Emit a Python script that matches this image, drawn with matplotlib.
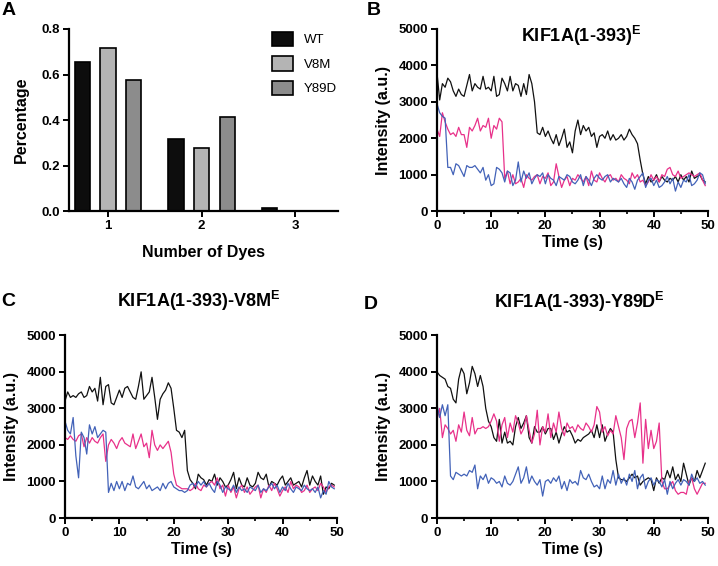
import numpy as np
import matplotlib
matplotlib.use("Agg")
import matplotlib.pyplot as plt
from matplotlib.ticker import MultipleLocator

plt.rcParams['font.family'] = ['Liberation Sans', 'DejaVu Sans']
plt.rcParams['font.weight'] = 'bold'

# panel A: dye counts
dyes = [1, 2, 3]
groups = ['WT', 'V8M', 'Y89D']
pct_wt = [0.655, 0.315, 0.015]
pct_v8m = [0.715, 0.276, 0.0]
pct_y89d = [0.576, 0.415, 0.0]

# photobleaching traces, 0.5 s frames
time_s = np.arange(100) * 0.5

b_black = [3800, 3050, 3500, 3400, 3650, 3550, 3300, 3150, 3350, 3200,
           3150, 3450, 3750, 3300, 3500, 3400, 3350, 3700, 3350, 3400,
           3300, 3700, 3150, 3200, 3650, 3500, 3300, 3700, 3300, 3500,
           3450, 3150, 3500, 3200, 3750, 3500, 3000, 2150, 2100, 2300,
           2050, 2200, 2000, 1850, 2100, 1800, 2000, 2250, 1750, 1900,
           1600, 2200, 2500, 2100, 2350, 2200, 2300, 2050, 2150, 1750,
           2050, 2100, 2000, 2200, 1950, 2100, 1950, 2000, 2100, 1950,
           2050, 2250, 2100, 2000, 1850, 1400, 1000, 750, 950, 800,
           850, 1000, 800, 950, 850, 800, 900, 850, 950, 800,
           1000, 850, 950, 800, 1100, 900, 950, 1000, 850, 800]
b_pink = [2250, 2050, 2700, 2450, 2250, 2100, 2150, 2050, 2300, 2100,
          2100, 1750, 2300, 2200, 2350, 2550, 2200, 2350, 2300, 2550,
          2000, 2350, 2250, 2550, 2450, 900, 1100, 750, 1000, 750,
          800, 900, 650, 1000, 900, 850, 950, 1000, 750, 950,
          900, 1050, 700, 800, 1300, 950, 650, 850, 950, 700,
          900, 850, 1000, 900, 800, 950, 700, 1100, 850, 800,
          1050, 900, 800, 950, 1000, 850, 900, 800, 1000, 900,
          850, 750, 1050, 900, 1000, 800, 850, 700, 800, 1000,
          850, 950, 800, 1000, 950, 1150, 1200, 1000, 950, 1100,
          900, 950, 1000, 1050, 1000, 950, 1000, 1050, 850, 700]
b_blue = [2950, 2700, 2600, 2550, 1200, 1200, 1000, 1300, 1250, 1100,
          950, 1250, 1200, 1200, 1250, 1150, 1050, 1200, 850, 1000,
          700, 750, 1200, 1150, 1050, 800, 1100, 1050, 700, 850,
          1350, 800, 1100, 900, 1050, 750, 900, 1000, 950, 1050,
          750, 1000, 900, 850, 700, 950, 900, 850, 1000, 950,
          800, 750, 850, 1000, 700, 950, 850, 700, 900, 1000,
          900, 850, 950, 1000, 800, 900, 850, 800, 900, 750,
          650, 900, 800, 600, 850, 950, 1050, 650, 850, 900,
          700, 850, 650, 700, 800, 950, 750, 900, 550, 800,
          650, 850, 800, 1000, 700, 750, 850, 1050, 1000, 750]

c_black = [3200, 3450, 3300, 3350, 3300, 3400, 3450, 3300, 3350, 3600,
           3450, 3550, 3200, 3850, 3100, 3600, 3650, 3150, 3100, 3300,
           3500, 3300, 3550, 3600, 3450, 3300, 3250, 3600, 4000, 3250,
           3350, 3450, 3850, 3300, 2700, 3250, 3400, 3500, 3700, 3550,
           3000, 2400, 2350, 2200, 2400, 1300, 1050, 950, 800, 1200,
           1100, 1050, 900, 1050, 1000, 1200, 900, 1100, 1000, 850,
           900, 1050, 1250, 800, 1100, 900, 850, 1100, 900, 850,
           950, 1250, 1100, 1050, 1200, 850, 1000, 950, 900, 1050,
           1150, 900, 1000, 1100, 900, 950, 1000, 850, 1100, 1300,
           900, 1150, 1000, 900, 1150, 650, 850, 800, 950, 900]
c_pink = [2200, 2150, 2250, 2150, 2100, 2250, 2300, 1950, 2200, 2050,
          2200, 2100, 2050, 2200, 2300, 1550, 2000, 2150, 2050, 1900,
          2100, 2200, 2050, 2000, 1950, 2300, 1900, 2100, 2300, 1950,
          2050, 1650, 2400, 2000, 1850, 2000, 1900, 2000, 2100, 1800,
          1200, 900, 850, 800, 800, 800, 750, 800, 950, 800,
          750, 900, 850, 950, 1000, 900, 1100, 800, 900, 600,
          900, 700, 850, 550, 800, 900, 700, 850, 650, 750,
          850, 900, 550, 800, 700, 900, 750, 950, 800, 600,
          750, 850, 700, 1000, 800, 900, 850, 700, 750, 900,
          700, 800, 850, 750, 950, 850, 700, 850, 900, 850]
c_blue = [2650, 2400, 2300, 2750, 1700, 1100, 2350, 2200, 1750, 2550,
          2300, 2500, 2200, 2300, 2400, 2350, 700, 950, 750, 1000,
          800, 1000, 750, 950, 900, 1150, 850, 800, 900, 1000,
          800, 900, 750, 800, 850, 750, 950, 800, 950, 1000,
          850, 800, 750, 750, 700, 750, 900, 950, 850, 1000,
          900, 1000, 850, 950, 800, 700, 1000, 900, 700, 850,
          800, 750, 900, 700, 850, 750, 800, 700, 850, 800,
          750, 900, 700, 800, 750, 850, 950, 800, 900, 700,
          850, 750, 950, 800, 700, 850, 800, 750, 900, 800,
          750, 800, 700, 850, 550, 750, 650, 1000, 850, 800]

d_black = [4000, 3900, 3850, 3800, 3600, 3550, 3250, 3150, 3800, 4100,
           3950, 3400, 3700, 4150, 3950, 3600, 3900, 3600, 3000, 2650,
           2500, 2200, 2100, 2700, 2050, 2350, 2050, 2100, 2000, 2500,
           2750, 2450, 2600, 2800, 2200, 2050, 2500, 2350, 2350, 2500,
           2300, 2450, 2450, 2150, 2350, 2050, 2300, 2500, 2350, 2400,
           2250, 2050, 2150, 2100, 2200, 2250, 2300, 2400, 2200, 2550,
           2200, 2550, 2100, 2300, 2450, 2350, 1600, 1100, 1050, 1050,
           1000, 1100, 1200, 1100, 1150, 900, 1000, 1050, 1100, 1050,
           750, 1100, 950, 1100, 1050, 1300, 1100, 1400, 1050, 1200,
           1000, 1500, 1200, 900, 1100, 1000, 1300, 1100, 1300, 1500]
d_pink = [2700, 3000, 2200, 2550, 2450, 2300, 2400, 2100, 2550, 2350,
          2900, 2400, 2250, 2750, 2300, 2450, 2450, 2500, 2450, 2500,
          2650, 2850, 2650, 2100, 2550, 2750, 2200, 2600, 2350, 2800,
          2600, 2300, 2450, 2800, 2400, 2050, 2300, 2950, 2000, 2500,
          2350, 2850, 2200, 2600, 2350, 2900, 2450, 2250, 2600, 2450,
          2500, 2350, 2550, 2450, 2400, 2600, 2500, 2350, 2550, 3050,
          2900, 2350, 2500, 2250, 2400, 2300, 2800, 2500, 2200, 1600,
          2450, 2650, 2700, 2200, 2600, 3150, 1500, 2700, 1900, 2400,
          1900, 2100, 2600, 1000, 800, 800, 900, 1000, 750, 650,
          700, 700, 650, 1000, 1100, 800, 650, 800, 950, 950]
d_blue = [3100, 2750, 3100, 2800, 3100, 1150, 1050, 1250, 1200, 1150,
          1200, 1150, 1300, 1250, 1450, 800, 1150, 1050, 1200, 950,
          1100, 1050, 950, 1000, 850, 1150, 950, 900, 1000, 1200,
          1400, 950, 1100, 1400, 950, 1150, 1000, 900, 1050, 600,
          1000, 1050, 950, 1100, 1000, 1150, 800, 1000, 750, 1050,
          950, 1000, 900, 1300, 1100, 1050, 1200, 1000, 850, 900,
          800, 1150, 800, 1050, 950, 1300, 900, 1200, 950, 1100,
          900, 1200, 1000, 1300, 800, 1100, 1200, 800, 1000, 1100,
          900, 1050, 1000, 850, 1050, 650, 1000, 800, 950, 1050,
          900, 1050, 1000, 900, 1200, 1000, 1100, 950, 1000, 900]

BLACK = '#111111'
PINK = '#e8318a'
BLUE = '#4262b8'


def style_axes(ax, labelsize=9.5):
    for s in ['top', 'right']:
        ax.spines[s].set_visible(False)
    for s in ['left', 'bottom']:
        ax.spines[s].set_linewidth(1.6)
    ax.tick_params(width=1.4, length=4.5, labelsize=labelsize, pad=2)
    ax.tick_params(which='minor', width=1.2, length=2.5)
    for lab in ax.get_xticklabels() + ax.get_yticklabels():
        lab.set_fontweight('bold')


fig = plt.figure(figsize=(7.18, 5.66), dpi=100)

# ---- A ----
axA = fig.add_axes([0.0961, 0.627, 0.3747, 0.3218])
x = np.array(dyes)
bw = 0.165
off = 0.275
axA.bar(x - off, pct_wt, bw, color='#0d0d0d', edgecolor='black', linewidth=1.2, label=groups[0])
axA.bar(x, pct_v8m, bw, color='#b4b4b4', edgecolor='black', linewidth=1.2, label=groups[1])
axA.bar(x + off, pct_y89d, bw, color='#8c8c8c', edgecolor='black', linewidth=1.2, label=groups[2])
axA.set_xlim(0.583, 3.46)
axA.set_ylim(0, 0.8)
axA.set_xticks(dyes)
axA.yaxis.set_major_locator(MultipleLocator(0.2))
axA.yaxis.set_major_formatter(plt.FormatStrFormatter('%.1f'))
axA.set_xlabel('Number of Dyes', fontsize=11.5, fontweight='bold', labelpad=9)
axA.set_ylabel('Percentage', fontsize=11.5, fontweight='bold', labelpad=9)
style_axes(axA, labelsize=9.5)
leg = axA.legend(loc='upper right', bbox_to_anchor=(1.04, 1.05), frameon=False,
                 fontsize=9.5, handlelength=1.6, handleheight=1.3,
                 labelspacing=0.75, handletextpad=0.8)
for t in leg.get_texts():
    t.set_fontweight('normal')


def trace_panel(rect, black, pink, blue, title, tx, ty):
    ax = fig.add_axes(rect)
    ax.plot(time_s, black, color=BLACK, lw=0.9)
    ax.plot(time_s, pink, color=PINK, lw=0.9)
    ax.plot(time_s, blue, color=BLUE, lw=0.9)
    ax.set_xlim(0, 50)
    ax.set_ylim(0, 5000)
    ax.xaxis.set_major_locator(MultipleLocator(10))
    ax.xaxis.set_minor_locator(MultipleLocator(5))
    ax.yaxis.set_major_locator(MultipleLocator(1000))
    ax.set_xlabel('Time (s)', fontsize=11.5, fontweight='bold', labelpad=2)
    ax.set_ylabel('Intensity (a.u.)', fontsize=11.5, fontweight='bold', labelpad=5)
    ax.text(tx, ty, title, transform=ax.transAxes, ha='center', va='center',
            fontsize=13, fontweight='bold')
    style_axes(ax)
    return ax


trace_panel([0.6086, 0.627, 0.3774, 0.3218], b_black, b_pink, b_blue,
            r'KIF1A(1-393)$^{\mathregular{E}}$', 0.53, 0.96)
trace_panel([0.0905, 0.0848, 0.3788, 0.3228], c_black, c_pink, c_blue,
            r'KIF1A(1-393)-V8M$^{\mathregular{E}}$', 0.49, 1.19)
trace_panel([0.6086, 0.0848, 0.3774, 0.3228], d_black, d_pink, d_blue,
            r'KIF1A(1-393)-Y89D$^{\mathregular{E}}$', 0.525, 1.185)

for lx, ly, letter in [(0.002, 0.997, 'A'), (0.511, 0.997, 'B'),
                       (0.002, 0.483, 'C'), (0.507, 0.477, 'D')]:
    fig.text(lx, ly, letter, fontsize=14, fontweight='bold', va='top', ha='left')

fig.savefig('out.png', dpi=100)
